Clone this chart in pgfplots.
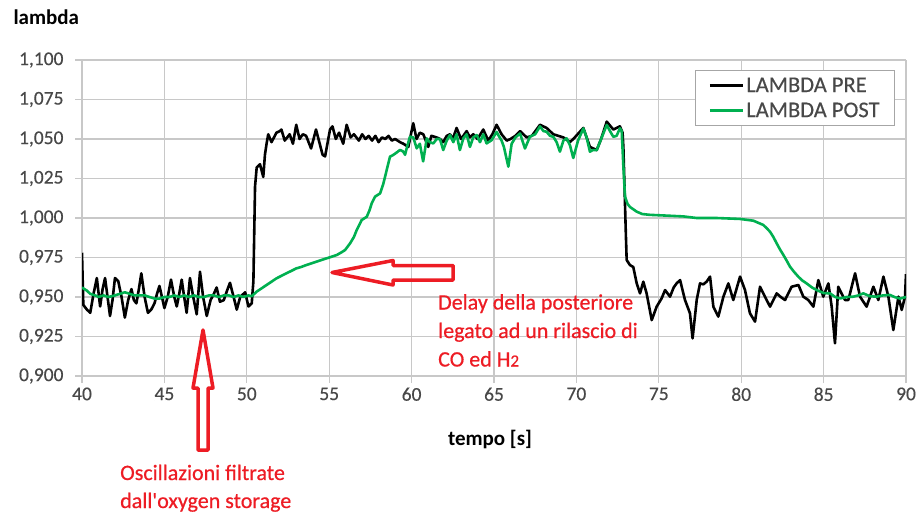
\documentclass[border=0pt]{standalone}
\usepackage{pgfplots}
\pgfplotsset{compat=1.18}
\usepackage{fontspec}
\setmainfont{Carlito}
\newfontfamily\annfont{Carlito}[FakeBold=0.6]
\newfontfamily\tickfont{Carlito}[FakeBold=0.35]
\definecolor{gridgray}{RGB}{200,200,200}
\definecolor{ticktext}{RGB}{72,72,72}
\definecolor{lgreen}{RGB}{0,176,80}
\definecolor{annred}{RGB}{237,28,36}
\pgfplotsset{/pgf/number format/assume math mode=true}

\begin{document}
\begin{tikzpicture}[x=1pt,y=1pt]
\path[use as bounding box] (0,0) rectangle (917,515);
\begin{axis}[
  at={(82pt,139pt)}, anchor=south west,
  scale only axis, width=824pt, height=316pt,
  xmin=40, xmax=90, ymin=0.9, ymax=1.1,
  xtick={40,45,50,55,60,65,70,75,80,85,90},
  ytick={0.9,0.925,0.95,0.975,1.0,1.025,1.05,1.075,1.1},
  grid=major, major grid style={gridgray, line width=1.1pt},
  axis line style={draw=none},
  tick align=outside, tick pos=left, major tick length=7pt,
  every tick/.style={gridgray, line width=1.1pt},
  ticklabel style={font=\tickfont\fontsize{19.5}{21}\selectfont, text=ticktext},
  yticklabel style={xshift=-8pt, /pgf/number format/.cd, use comma, fixed, fixed zerofill, precision=3},
  xticklabel style={yshift=-1pt, /pgf/number format/.cd, fixed, precision=0},
  legend style={at={(0.9867,0.968)}, anchor=north east, draw=gray!70, line width=1pt,
    fill=white, font=\tickfont\fontsize{22.5}{24}\selectfont, text=ticktext,
    inner xsep=13pt, inner ysep=5pt, row sep=5pt, cells={anchor=west}},
  legend image code/.code={\draw[#1, line width=3pt] (0pt,0pt)--(33pt,0pt);},
]
\addplot[black, line width=2.6pt, line join=round] coordinates {
(40.0,0.978) (40.08,0.945) (40.3,0.942) (40.5,0.940) (40.7,0.952) (40.9,0.962) (41.1,0.944) (41.25,0.955) (41.4,0.962) (41.55,0.950) (41.7,0.938) (41.85,0.948) (42.0,0.962) (42.2,0.960) (42.4,0.950) (42.6,0.937) (42.8,0.948) (43.0,0.955) (43.15,0.948) (43.3,0.946) (43.45,0.955) (43.6,0.965) (43.8,0.950) (44.0,0.940) (44.2,0.942) (44.4,0.946) (44.55,0.952) (44.7,0.957) (44.85,0.950) (45.0,0.943) (45.2,0.950) (45.4,0.961) (45.6,0.950) (45.75,0.944) (45.9,0.952) (46.05,0.961) (46.2,0.950) (46.35,0.940) (46.55,0.962) (46.75,0.950) (46.96,0.939) (47.16,0.966) (47.35,0.950) (47.57,0.938) (47.8,0.948) (48.0,0.952) (48.17,0.956) (48.37,0.947) (48.6,0.948) (48.8,0.954) (48.98,0.959) (49.2,0.950) (49.39,0.942) (49.6,0.950) (49.9,0.953) (50.1,0.944) (50.3,0.946)
(50.4,0.960) (50.5,1.020) (50.6,1.032) (50.8,1.034) (51.0,1.026) (51.1,1.040) (51.2,1.047) (51.3,1.053) (51.5,1.048) (51.8,1.054) (52.0,1.055) (52.1,1.056) (52.3,1.049) (52.6,1.053) (52.8,1.047) (53.0,1.059) (53.2,1.050) (53.4,1.053) (53.6,1.052) (53.9,1.044) (54.2,1.056) (54.4,1.048) (54.6,1.040) (54.75,1.039) (55.05,1.056) (55.2,1.058) (55.4,1.050) (55.6,1.054) (55.85,1.047) (56.06,1.059) (56.3,1.051) (56.5,1.053) (56.8,1.049) (57.0,1.053) (57.2,1.050) (57.4,1.052) (57.6,1.049) (57.8,1.052) (58.0,1.048) (58.2,1.051) (58.4,1.050) (58.6,1.052) (58.8,1.049) (59.0,1.050) (59.3,1.048) (59.5,1.047) (59.8,1.045) (60.1,1.060) (60.3,1.050) (60.5,1.054) (60.71,1.053) (61.01,1.045) (61.2,1.052) (61.52,1.051) (61.72,1.050) (61.92,1.048) (62.13,1.052) (62.33,1.053) (62.5,1.050) (62.73,1.057) (63.0,1.050) (63.14,1.052) (63.34,1.055) (63.54,1.051) (63.74,1.053) (64.0,1.050) (64.35,1.056) (64.65,1.049) (64.9,1.053) (65.16,1.059) (65.46,1.053) (65.77,1.049) (66.0,1.050) (66.3,1.052) (66.58,1.055) (66.98,1.051) (67.3,1.052) (67.79,1.059) (68.19,1.057) (68.6,1.053) (68.9,1.052) (69.21,1.051) (69.61,1.048) (69.9,1.051) (70.42,1.057) (70.82,1.045) (71.23,1.043) (71.5,1.050) (71.84,1.061) (72.24,1.056) (72.64,1.058) (72.8,1.054)
(72.85,1.045) (73.0,0.990) (73.05,0.9734) (73.25,0.9702) (73.45,0.9690) (73.66,0.9586) (73.86,0.9523) (74.06,0.9597) (74.26,0.9523) (74.57,0.9354) (74.87,0.9439) (75.17,0.9491) (75.38,0.9544) (75.68,0.9502) (75.9,0.956) (76.08,0.9586) (76.29,0.9607) (76.59,0.9481) (76.89,0.9397) (77.05,0.9238) (77.3,0.9481) (77.5,0.9586) (77.7,0.958) (77.9,0.9597) (78.11,0.9629) (78.31,0.9439) (78.61,0.9376) (78.92,0.9502) (79.22,0.9586) (79.52,0.9481) (79.93,0.9629) (80.23,0.9544) (80.53,0.9397) (80.84,0.9344) (81.14,0.9565) (81.44,0.9502) (81.75,0.9439) (82.15,0.9523) (82.4,0.950) (82.66,0.9481) (83.06,0.9565) (83.47,0.9576) (83.77,0.9502) (84.07,0.9481) (84.38,0.9439) (84.68,0.9607) (84.98,0.9502) (85.29,0.9586) (85.49,0.9439) (85.69,0.9207) (85.89,0.9565) (86.1,0.952) (86.3,0.9481) (86.5,0.9481) (86.91,0.9650) (87.21,0.9502) (87.61,0.9439) (88.02,0.9565) (88.32,0.9481) (88.63,0.9629) (88.93,0.9502) (89.23,0.9291) (89.54,0.9502) (89.74,0.9418) (89.94,0.9502) (90.0,0.9645)
};
\addlegendentry{LAMBDA PRE}
\addplot[lgreen, line width=2.6pt, line join=round] coordinates {
(40.0,0.956) (40.3,0.954) (40.5,0.952) (40.8,0.951) (41.0,0.950) (41.3,0.951) (41.6,0.950) (42.0,0.951) (42.3,0.952) (42.6,0.953) (42.9,0.952) (43.2,0.951) (43.5,0.951) (43.8,0.951) (44.1,0.950) (44.4,0.949) (44.7,0.949) (45.0,0.950) (45.3,0.950) (45.6,0.951) (45.9,0.950) (46.2,0.951) (46.5,0.950) (46.8,0.951) (47.1,0.950) (47.4,0.950) (47.7,0.951) (48.0,0.951) (48.3,0.950) (48.6,0.951) (48.9,0.951) (49.2,0.950) (49.5,0.951) (49.8,0.950) (50.1,0.951) (50.3,0.9505) (50.6,0.9534) (50.9,0.9555) (51.2,0.9576) (51.5,0.9597) (51.8,0.9618) (52.1,0.9634) (52.4,0.965) (52.7,0.9665) (53.0,0.9681) (53.3,0.969) (53.6,0.9702) (53.9,0.9712) (54.24,0.9724) (54.55,0.9735) (54.85,0.9745) (55.15,0.9755) (55.46,0.9766) (55.7,0.978) (55.96,0.9797) (56.27,0.984) (56.5,0.988) (56.67,0.9924) (56.97,0.9987) (57.28,1.0008) (57.45,1.005) (57.58,1.0093) (57.78,1.0135) (58.09,1.0156) (58.29,1.0219) (58.49,1.0304) (58.69,1.0388) (58.9,1.040) (59.1,1.0415) (59.3,1.0431) (59.5,1.042) (59.6,1.040) (59.75,1.046) (59.9,1.0515) (60.1,1.051) (60.31,1.0441) (60.5,1.047) (60.7,1.0358) (60.92,1.0504) (61.1,1.048) (61.32,1.0472) (61.52,1.050) (61.72,1.0500)
(61.92,1.043) (62.13,1.049) (62.33,1.0525) (62.53,1.048) (62.73,1.053) (62.93,1.043) (63.14,1.0504) (63.34,1.053) (63.54,1.045) (63.74,1.051) (63.95,1.0525) (64.15,1.048) (64.35,1.053) (64.55,1.0472) (64.86,1.0493) (65.16,1.0545) (65.26,1.0525) (65.46,1.049) (65.6,1.045) (65.87,1.0325) (66.07,1.047) (66.3,1.051) (66.58,1.0535) (66.88,1.044) (67.18,1.0515) (67.5,1.053) (67.79,1.058) (68.0,1.055) (68.19,1.0546) (68.4,1.052) (68.6,1.0514) (68.8,1.048) (69.0,1.042) (69.21,1.0490) (69.41,1.0504) (69.61,1.046) (69.81,1.038) (70.1,1.049) (70.42,1.0567) (70.62,1.051) (70.82,1.042) (71.0,1.043) (71.23,1.043) (71.5,1.050) (71.84,1.0589) (72.04,1.055) (72.24,1.0514) (72.44,1.052) (72.64,1.0568) (72.75,1.055) (72.85,1.0325) (72.95,1.0135) (73.1,1.009) (73.25,1.007) (73.66,1.004) (74.0,1.0025) (74.46,1.002) (75.5,1.0015) (76.49,1.001) (77.3,1.000) (78.5,1.000) (79.93,0.9994) (80.74,0.9983) (81.34,0.9956) (81.55,0.9935) (81.75,0.9913) (81.95,0.988) (82.15,0.984) (82.36,0.980) (82.56,0.9766) (82.76,0.973) (82.96,0.9692) (83.2,0.966) (83.47,0.9628) (83.7,0.9605) (83.97,0.9586) (84.3,0.956) (84.58,0.9544) (85.0,0.9525) (85.39,0.9523) (85.7,0.950) (86.0,0.9491) (86.4,0.950) (86.8,0.9502) (87.1,0.951) (87.41,0.9523) (87.8,0.9505) (88.22,0.9502) (88.6,0.951) (89.03,0.9513) (89.3,0.950) (89.64,0.949) (90.0,0.950)
};
\addlegendentry{LAMBDA POST}
\end{axis}
% axis titles
\node[anchor=base west, font=\bfseries\fontsize{21}{24}\selectfont] at (10,490) {lambda};
\node[anchor=base, font=\bfseries\fontsize{21}{24}\selectfont] at (490,70) {tempo [s]};
% annotation arrows
\draw[annred, line width=3.5pt, line join=round]
  (332,242.5) -- (393,254.5) -- (393,249.5) -- (453,249.5) -- (453,235) -- (393,235) -- (393,230) -- cycle;
\draw[annred, line width=3.5pt, line join=round]
  (203,185) -- (213,127) -- (208,127) -- (208,65) -- (198,65) -- (198,127) -- (193,127) -- cycle;
% annotation texts
\node[anchor=base west, align=left, text=annred, font=\annfont\fontsize{22}{28.5}\selectfont, inner sep=0pt] at (438,148.5)
  {Delay della posteriore\\legato ad un rilascio di\\CO ed H{\fontsize{17}{20}\selectfont 2}};
\node[anchor=base west, align=left, text=annred, font=\annfont\fontsize{22}{28}\selectfont, inner sep=0pt] at (120,7)
  {Oscillazioni filtrate\\dall'oxygen storage};
\end{tikzpicture}
\end{document}
